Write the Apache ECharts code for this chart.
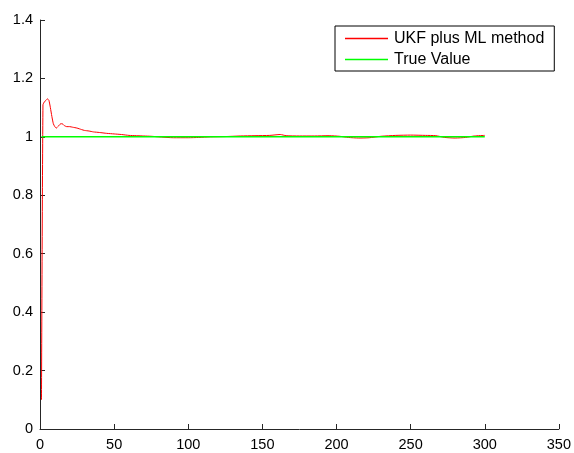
<!DOCTYPE html>
<html>
<head>
<meta charset="utf-8">
<script src="https://cdn.jsdelivr.net/npm/echarts@6/dist/echarts.min.js"></script>
<style>
  html, body { margin: 0; padding: 0; background: #fff; }
  #chart { width: 574px; height: 453px; }
</style>
</head>
<body>
<div id="chart"></div>
<script>
// UKF plus ML estimate over time steps
const ukfX = [1, 2, 3, 4, 5, 6, 7, 8, 9, 10, 11, 12, 13, 14, 15, 16, 17, 18, 20, 22, 25, 28, 30, 33, 36, 40, 45, 50, 55, 60, 65, 70, 75, 80, 90, 100, 107, 115, 125, 135, 145, 155, 162, 166, 175, 185, 195, 202, 208, 215, 222, 230, 240, 250, 260, 267, 273, 280, 287, 293, 300];
const ukfY = [0.10, 1.11, 1.12, 1.125, 1.13, 1.125, 1.10, 1.07, 1.045, 1.035, 1.03, 1.035, 1.04, 1.045, 1.045, 1.04, 1.037, 1.035, 1.035, 1.033, 1.03, 1.025, 1.022, 1.02, 1.017, 1.015, 1.012, 1.01, 1.008, 1.005, 1.004, 1.003, 1.002, 1.0, 0.997, 0.997, 0.998, 1.0, 1.001, 1.003, 1.004, 1.005, 1.008, 1.004, 1.003, 1.003, 1.004, 1.002, 0.998, 0.996, 0.997, 1.002, 1.005, 1.006, 1.005, 1.004, 0.998, 0.996, 0.998, 1.003, 1.005];

// True parameter value
const trueX = [1, 300];
const trueY = [1, 1];

const xTicks = [0, 50, 100, 150, 200, 250, 300, 350];
const yTicks = [0, 0.2, 0.4, 0.6, 0.8, 1, 1.2, 1.4];

const seriesNames = ['UKF plus ML method', 'True Value'];

const pairs = (xs, ys) => xs.map((x, i) => [x, ys[i]]);

const chart = echarts.init(document.getElementById('chart'), null, { renderer: 'canvas' });

const axisFont = { fontFamily: 'Liberation Sans, Arial, sans-serif', fontSize: 14.5, color: '#000' };
const axisColor = '#262626';

chart.setOption({
  animation: false,
  backgroundColor: '#fff',
  grid: { left: 40, right: 13, top: 20, bottom: 24, containLabel: false },
  xAxis: {
    type: 'value',
    min: xTicks[0],
    max: xTicks[xTicks.length - 1],
    interval: 50,
    axisLine: { show: true, onZero: false, lineStyle: { color: axisColor, width: 1 } },
    axisTick: { show: true, inside: true, length: 5, lineStyle: { color: axisColor } },
    axisLabel: Object.assign({ margin: 8, formatter: v => String(v) }, axisFont),
    splitLine: { show: false }
  },
  yAxis: {
    type: 'value',
    min: yTicks[0],
    max: yTicks[yTicks.length - 1],
    interval: 0.2,
    axisLine: { show: true, onZero: false, lineStyle: { color: axisColor, width: 1 } },
    axisTick: { show: true, inside: true, length: 5, lineStyle: { color: axisColor } },
    axisLabel: Object.assign({ margin: 7, formatter: v => String(+v.toFixed(1)) }, axisFont),
    splitLine: { show: false }
  },
  legend: {
    orient: 'vertical',
    left: 335,
    top: 26,
    width: 218,
    padding: [4, 10, 3, 10],
    borderColor: '#000',
    borderWidth: 1,
    borderRadius: 0,
    backgroundColor: '#fff',
    icon: 'rect',
    itemWidth: 43,
    itemHeight: 1.5,
    itemGap: 4,
    textStyle: { fontFamily: 'Liberation Sans, Arial, sans-serif', fontSize: 16, lineHeight: 17, color: '#000', padding: [0, 0, 0, 1] },
    data: seriesNames
  },
  series: [
    {
      name: seriesNames[0],
      type: 'line',
      data: pairs(ukfX, ukfY),
      symbol: 'none',
      smooth: 0.2,
      lineStyle: { color: '#ff0000', width: 1 },
      itemStyle: { color: '#ff0000' }
    },
    {
      name: seriesNames[1],
      type: 'line',
      data: pairs(trueX, trueY),
      symbol: 'none',
      lineStyle: { color: '#00ff00', width: 1.5 },
      itemStyle: { color: '#00ff00' }
    }
  ]
});
</script>
</body>
</html>
